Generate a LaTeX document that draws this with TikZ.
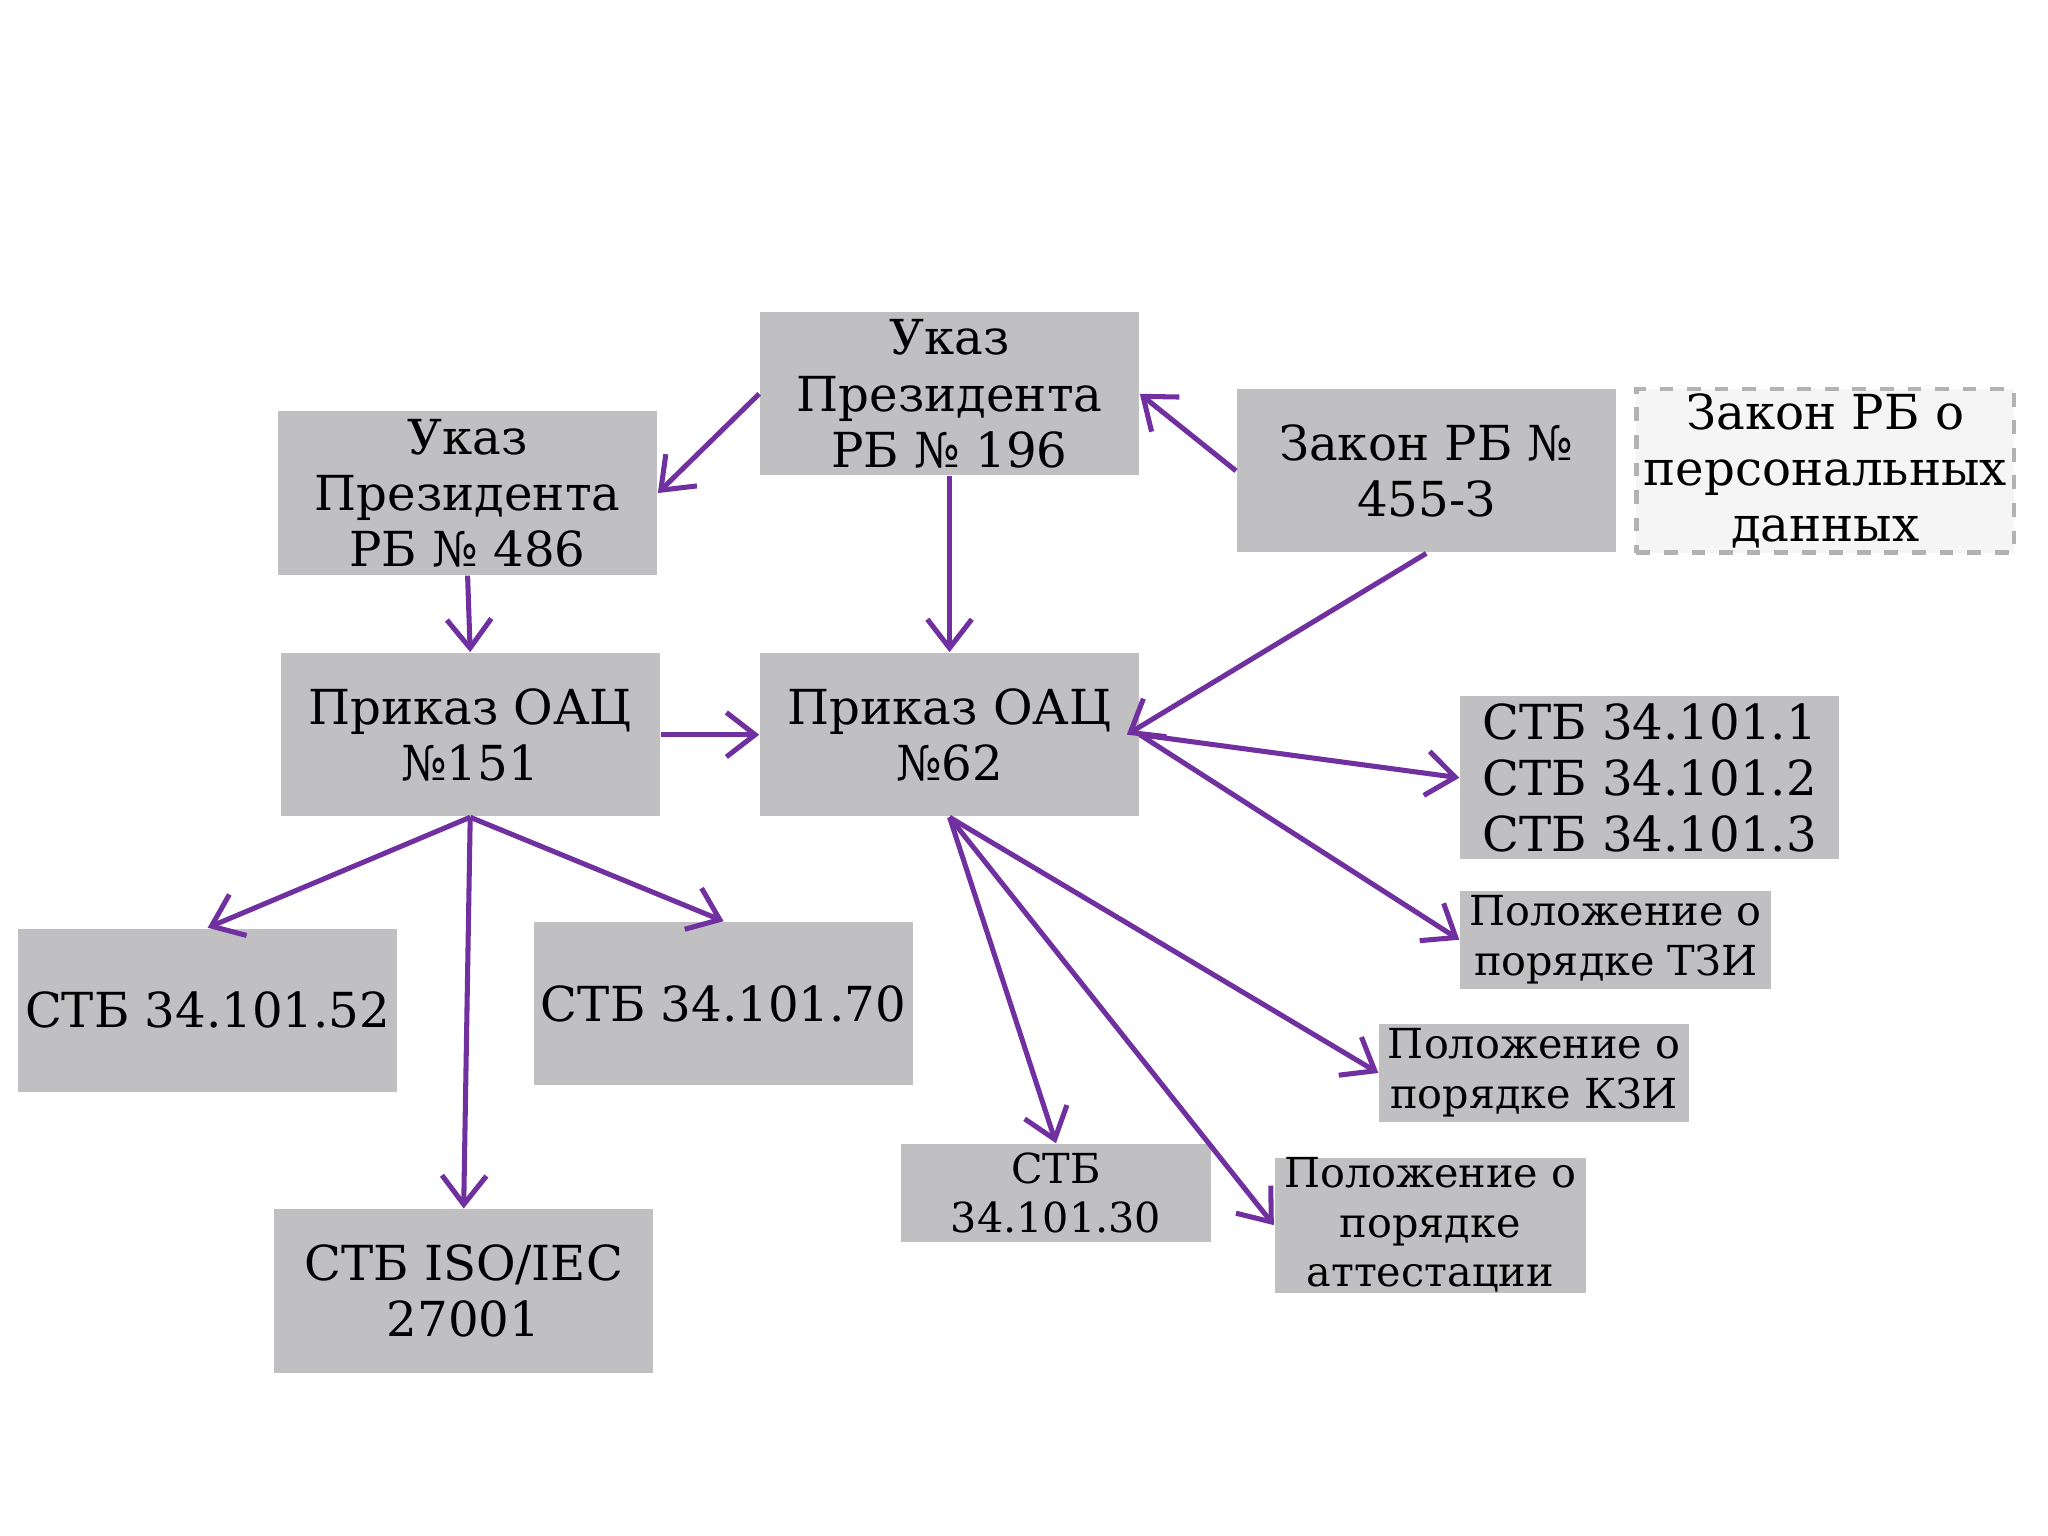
\documentclass[tikz,border=0pt]{standalone}
\usepackage{fontspec}
\setmainfont{DejaVu Serif}
\usetikzlibrary{arrows.meta}
\definecolor{boxgray}{RGB}{192,191,193}
\definecolor{arr}{RGB}{112,48,160}
\begin{document}
\begin{tikzpicture}[x=0.01cm,y=-0.01cm,
  box/.style={fill=boxgray,draw=none,align=center,inner sep=0pt,font=\fontsize{10.5}{12.2}\selectfont},
  sbox/.style={box,font=\fontsize{9}{10.8}\selectfont},
  con/.style={draw=arr,line width=1.1pt,-{Straight Barb[length=2.2mm,width=3.4mm]}}]
\useasboundingbox (0,0) rectangle (1568,1176);
\fill[white] (0,0) rectangle (1568,1176);
\newcommand{\bx}[7]{\node[#1,minimum width=#4*0.01cm-#2*0.01cm,minimum height=#5*0.01cm-#3*0.01cm] (#6) at ({(#2+#4)/2},{(#3+#5)/2}) {#7};}
\bx{box}{582}{239}{872}{364}{u196}{Указ\\Президента\\РБ № 196}
\bx{box}{213}{315}{503}{440}{u486}{Указ\\Президента\\РБ № 486}
\bx{box}{947}{298}{1237}{423}{z455}{Закон РБ №\\455-З}
\node[box,fill=black!4,draw=black!30,dashed,line width=1pt,minimum width=2.89cm,minimum height=1.25cm] (zpd) at (1397.5,360.5) {Закон РБ о\\персональных\\данных};
\bx{box}{215}{500}{505}{625}{p151}{Приказ ОАЦ\\№151}
\bx{box}{582}{500}{872}{625}{p62}{Приказ ОАЦ\\№62}
\bx{box}{1118}{533}{1408}{658}{stb1}{СТБ 34.101.1\\СТБ 34.101.2\\СТБ 34.101.3}
\bx{sbox}{1118}{682}{1356}{757}{ptzi}{Положение о\\порядке ТЗИ}
\bx{sbox}{1056}{784}{1293}{859}{pkzi}{Положение о\\порядке КЗИ}
\bx{sbox}{690}{876}{927}{951}{stb30}{СТБ\\34.101.30}
\bx{sbox}{976}{887}{1214}{989}{patt}{Положение о\\порядке\\аттестации}
\bx{box}{14}{711}{304}{836}{stb52}{СТБ 34.101.52}
\bx{box}{409}{706}{699}{831}{stb70}{СТБ 34.101.70}
\bx{box}{210}{926}{500}{1051}{iso}{СТБ ISO/IEC\\27001}
\draw[con] (u196.west) -- (u486.east);
\draw[con] (u196.south) -- (p62.north);
\draw[con] (z455.west) -- (u196.east);
\draw[con] (z455.south) -- ([xshift=-10*0.01cm]p62.east);
\draw[con] (u486.south) -- (p151.north);
\draw[con] (p151.east) -- (p62.west);
\draw[con] (p151.south) -- (stb52.north);
\draw[con] (p151.south) -- (stb70.north);
\draw[con] (p151.south) -- (iso.north);
\draw[con] (p62.east) -- (stb1.west);
\draw[con] (p62.east) -- (ptzi.west);
\draw[con] (p62.south) -- (pkzi.west);
\draw[con] (p62.south) -- (stb30.north);
\draw[con] (p62.south) -- (patt.west);
\end{tikzpicture}
\end{document}
